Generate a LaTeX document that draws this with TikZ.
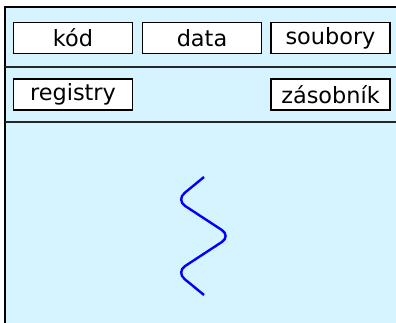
\documentclass[tikz,border=0pt]{standalone}
\usepackage{fontspec}
\setmainfont{DejaVu Sans}
\definecolor{paneblue}{RGB}{213,244,255}
\begin{document}
\begin{tikzpicture}[x=1pt,y=-1pt,
  part/.style={draw=black, line width=1.8pt, fill=white, minimum width=119pt,
    minimum height=31pt, inner sep=0pt,
    font=\fontsize{22.4}{26}\selectfont},
  band/.style={draw=black!85, line width=1.1pt},
  thread/.style={draw=blue, line width=2.4pt, rounded corners=11pt}]
  \useasboundingbox (0,0) rectangle (396,322);
  \clip (0,0) rectangle (396,322);
  % process frame
  \draw[fill=paneblue, line width=1.5pt] (5,7) rectangle (410,340);
  \coordinate (l1) at (5,67);  \coordinate (r1) at (410,67);
  \coordinate (l2) at (5,122); \coordinate (r2) at (410,122);
  \draw[band] (l1) -- (r1);
  \draw[band] (l2) -- (r2);
  % shared resources
  \node[part] (kod) at (73,38) {kód};
  \node[part] (data) at (202,38) {data};
  \node[part] (soubory) at (330.5,38) {soubory};
  % per-thread resources
  \node[part] (registry) at (73,94.5) {registry};
  \node[part] (zasobnik) at (330.5,94.5) {zásobník};
  % thread of execution
  \coordinate (t0) at (204,177);
  \coordinate (t1) at (176,200);
  \coordinate (t2) at (231,236);
  \coordinate (t3) at (176,272);
  \coordinate (t4) at (204,295);
  \draw[thread] (t0) -- (t1) -- (t2) -- (t3) -- (t4);
\end{tikzpicture}
\end{document}
